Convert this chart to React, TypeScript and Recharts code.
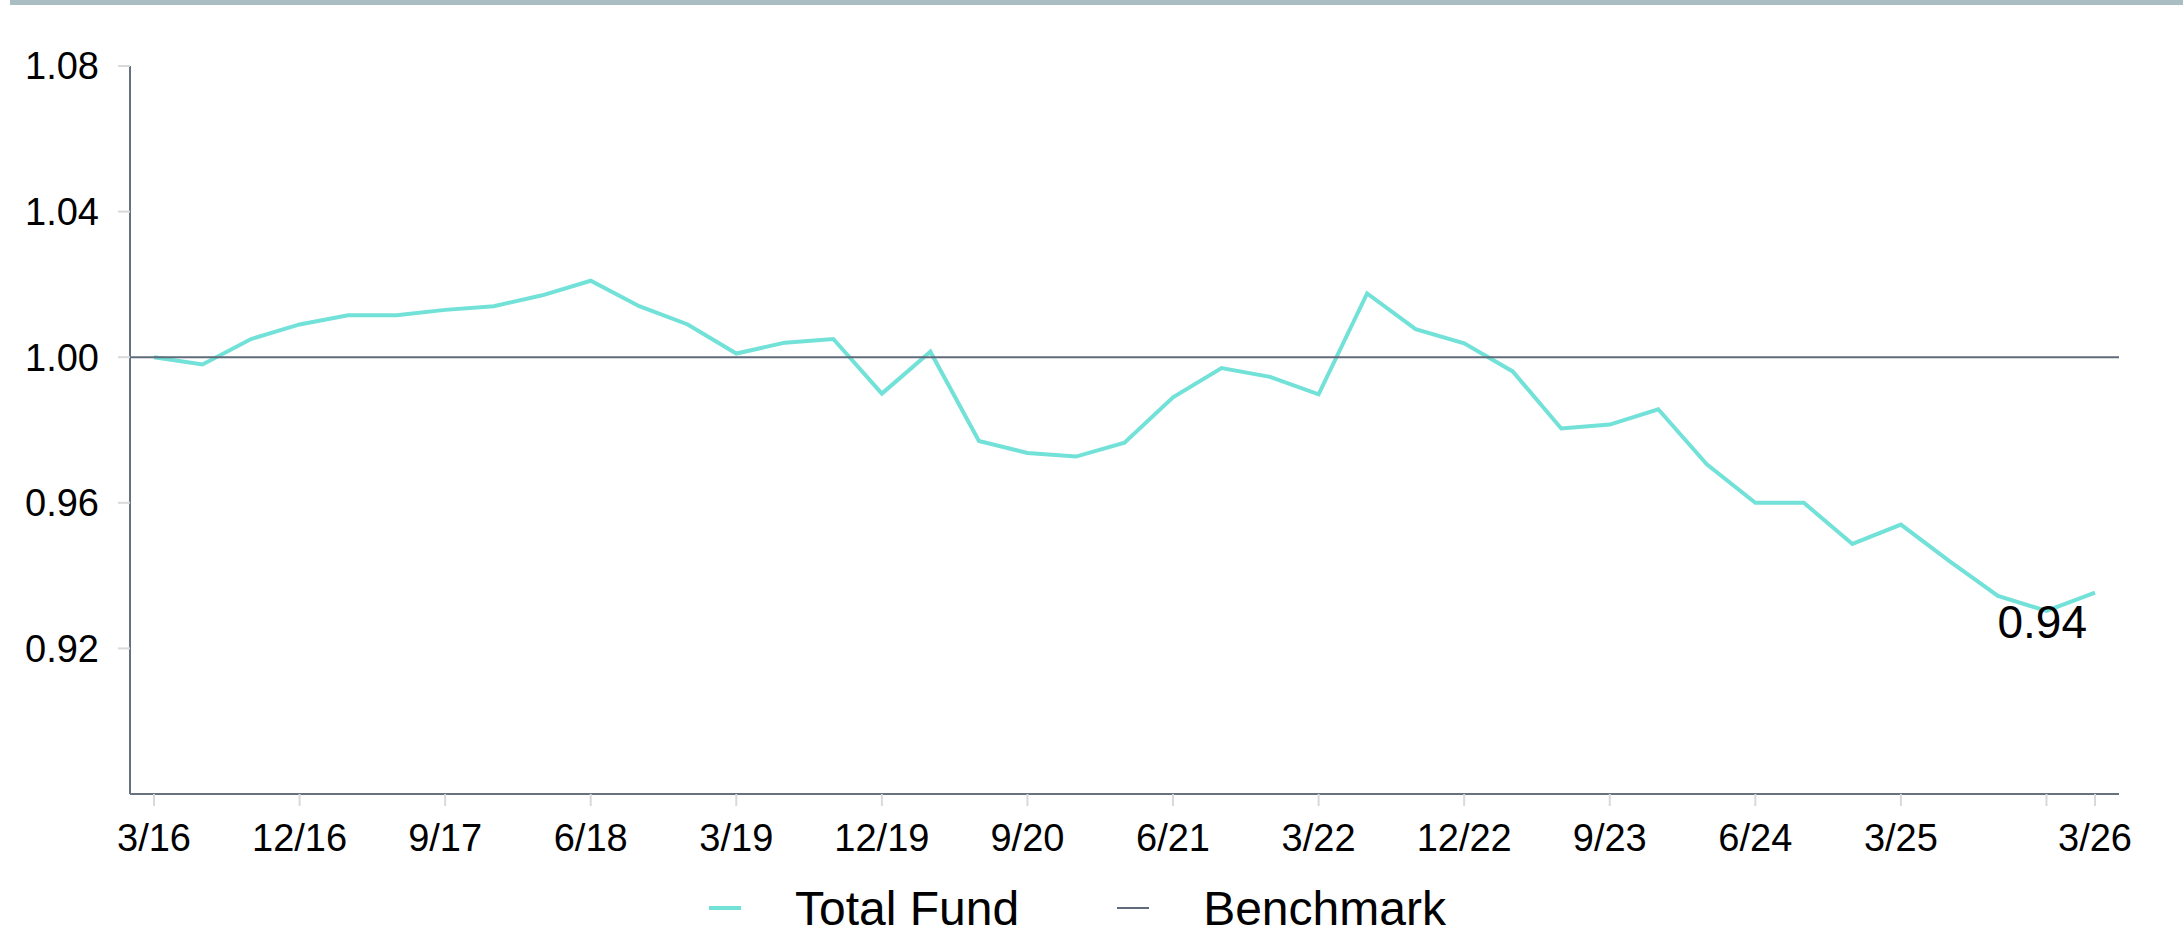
import React from 'react';
import { LineChart, Line, XAxis, YAxis, ReferenceLine, Legend } from 'recharts';

const quarters = [
    '3/16', '6/16', '9/16', '12/16',
    '3/17', '6/17', '9/17', '12/17',
    '3/18', '6/18', '9/18', '12/18',
    '3/19', '6/19', '9/19', '12/19',
    '3/20', '6/20', '9/20', '12/20',
    '3/21', '6/21', '9/21', '12/21',
    '3/22', '6/22', '9/22', '12/22',
    '3/23', '6/23', '9/23', '12/23',
    '3/24', '6/24', '9/24', '12/24',
    '3/25', '6/25', '9/25', '12/25',
    '3/26',
];

const totalFund = [
    1.000, 0.998, 1.005, 1.009,
    1.0115, 1.0115, 1.013, 1.014,
    1.017, 1.021, 1.014, 1.009,
    1.001, 1.004, 1.005, 0.990,
    1.0015, 0.977, 0.9737, 0.9727,
    0.9765, 0.989, 0.997, 0.9946,
    0.9898, 1.0175, 1.0077, 1.0038,
    0.9961, 0.9804, 0.9815, 0.9857,
    0.9706, 0.960, 0.960, 0.9487,
    0.954, 0.944, 0.9344, 0.9303,
    0.9353,
];

const benchmarkLevel = 1.0;

const xTicks = ['3/16', '12/16', '9/17', '6/18', '3/19', '12/19', '9/20', '6/21', '3/22', '12/22', '9/23', '6/24', '3/25', '12/25', '3/26'];
const hiddenXLabels = ['12/25'];
const yTicks = [0.92, 0.96, 1.0, 1.04, 1.08];

const FONT = '"Liberation Sans", Arial, Helvetica, sans-serif';
const TEAL = '#72e1d8';
const SLATE = '#5f6b7a';
const AXIS = '#66727e';
const TICK = '#d9d9d9';

const data = quarters.map((q, i) => ({ quarter: q, fund: totalFund[i] }));

const legendItems = [
    { name: 'Total Fund', color: TEAL, thickness: 4 },
    { name: 'Benchmark', color: SLATE, thickness: 2 },
];

const renderLegend = () => (
    <div style={{ display: 'flex', alignItems: 'center', height: 60, paddingLeft: 709, fontFamily: FONT, fontSize: 48, color: '#000' }}>
        {legendItems.map((item, i) => (
            <React.Fragment key={item.name}>
                <span style={{ display: 'inline-block', width: 32, height: item.thickness, background: item.color, marginLeft: i === 0 ? 0 : 98 }} />
                <span style={{ marginLeft: 54, whiteSpace: 'nowrap' }}>{item.name}</span>
            </React.Fragment>
        ))}
    </div>
);

const renderEndLabel = (props: any) => {
    const { x, y, index, value } = props;
    if (index !== totalFund.length - 1) return null;
    return (
        <text x={x - 8} y={y + 45} textAnchor="end" fontSize={46} fill="#000" fontFamily={FONT}>
            {Number(value).toFixed(2)}
        </text>
    );
};

export default function App() {
    return (
        <div style={{ position: 'absolute', left: 0, top: 0, width: 2183, height: 944, background: '#fff' }}>
            <div style={{ position: 'absolute', left: 10, right: 0, top: 0, height: 5, background: '#a9bdc3' }} />
            <LineChart
                width={2183}
                height={944}
                data={data}
                margin={{ top: 66, right: 64, bottom: 0, left: 0 }}
                style={{ fontFamily: FONT }}
            >
                <XAxis
                    dataKey="quarter"
                    ticks={xTicks}
                    interval={0}
                    height={90}
                    padding={{ left: 24, right: 24 }}
                    tickSize={12}
                    tickMargin={18}
                    axisLine={{ stroke: AXIS, strokeWidth: 2 }}
                    tickLine={{ stroke: TICK, strokeWidth: 2 }}
                    tick={{ fill: '#000', fontSize: 38, fontFamily: FONT }}
                    tickFormatter={(v: string) => (hiddenXLabels.includes(v) ? '' : v)}
                />
                <YAxis
                    domain={[0.88, 1.08]}
                    ticks={yTicks}
                    width={130}
                    tickSize={12}
                    tickMargin={19}
                    axisLine={{ stroke: AXIS, strokeWidth: 2 }}
                    tickLine={{ stroke: TICK, strokeWidth: 2 }}
                    tick={{ fill: '#000', fontSize: 38, fontFamily: FONT }}
                    tickFormatter={(v: number) => v.toFixed(2)}
                />
                <Legend verticalAlign="bottom" content={renderLegend} wrapperStyle={{ bottom: 6 }} />
                <Line
                    type="linear"
                    dataKey="fund"
                    name="Total Fund"
                    stroke={TEAL}
                    strokeWidth={4}
                    dot={false}
                    isAnimationActive={false}
                    label={renderEndLabel}
                />
                <ReferenceLine y={benchmarkLevel} stroke={SLATE} strokeWidth={2} />
            </LineChart>
        </div>
    );
}
